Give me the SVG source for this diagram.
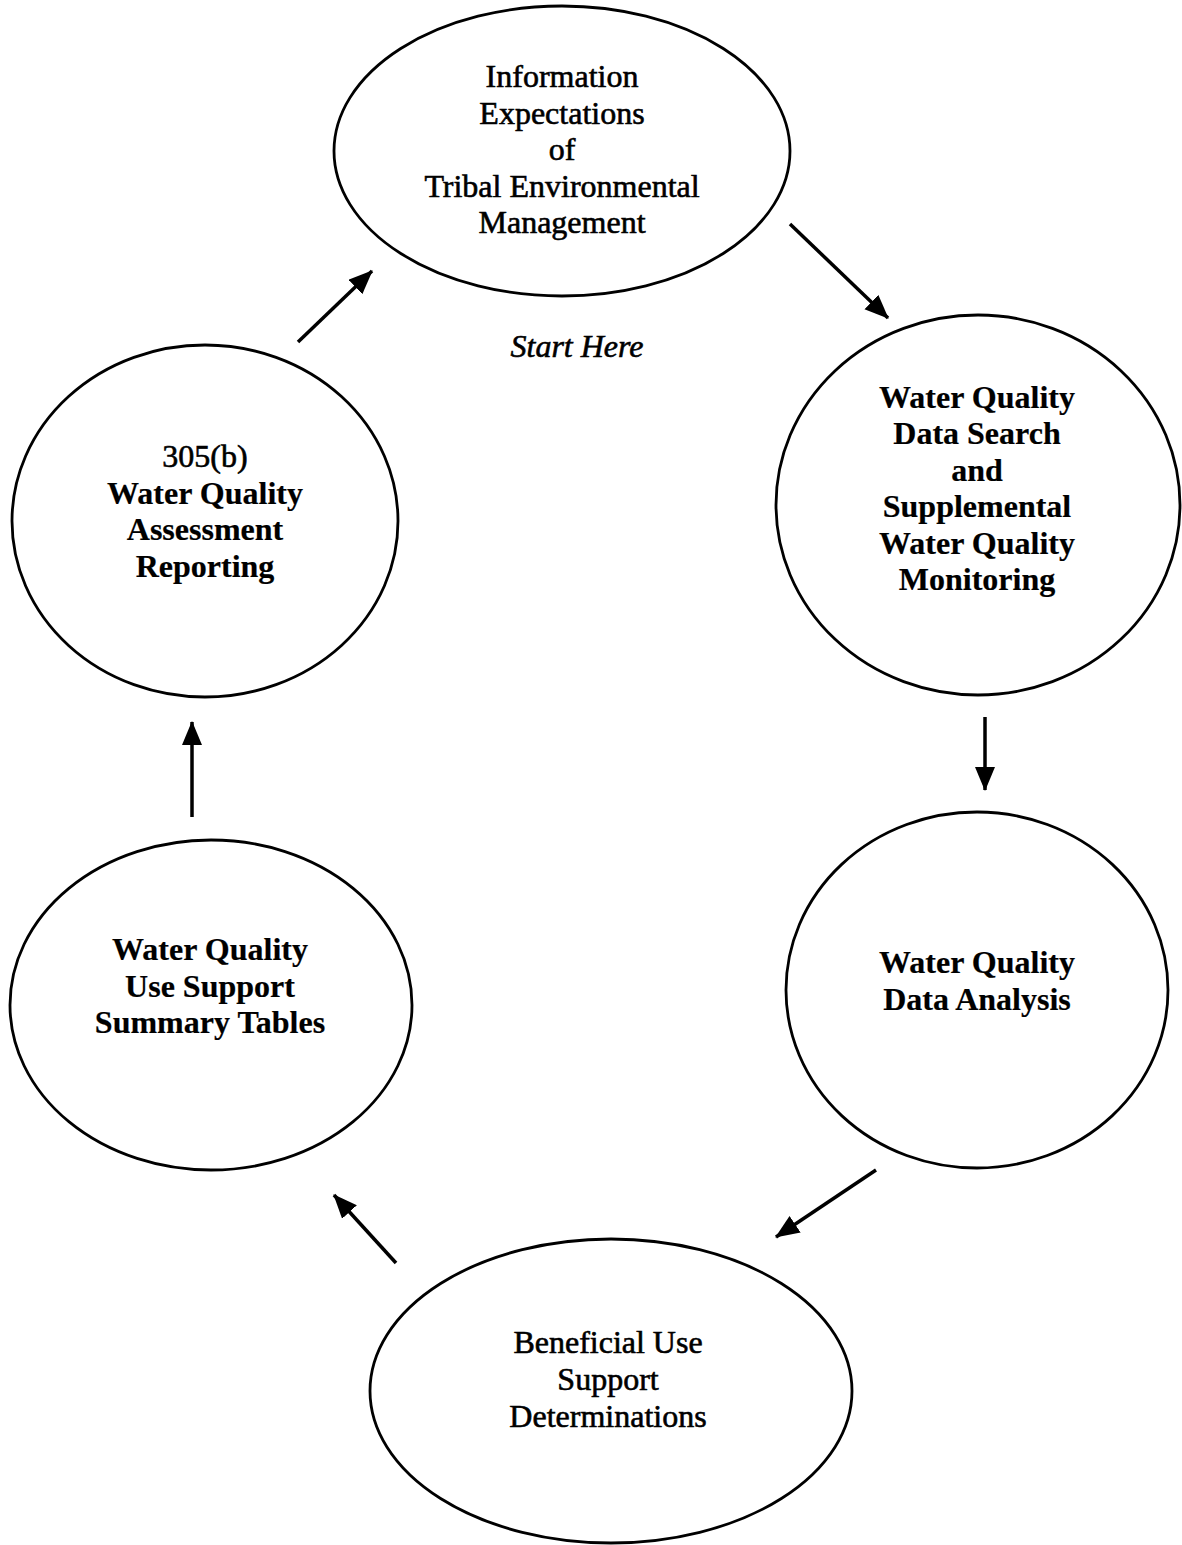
<svg xmlns="http://www.w3.org/2000/svg" width="1182" height="1545" viewBox="0 0 1182 1545">
<style>
.node{fill:#fff;stroke:#000;stroke-width:2.8}
.t{font-family:"Liberation Serif","Times New Roman",serif;font-size:32px;text-anchor:middle;fill:#000;stroke:#000;stroke-width:0.6}
.b{font-weight:bold;stroke-width:0.2}
.it{font-style:italic;font-size:32px}
.c{stroke:#000;stroke-width:3.5;fill:none;marker-end:url(#ah)}
</style>
<defs>
<marker id="ah" markerUnits="userSpaceOnUse" markerWidth="26" markerHeight="22" refX="23" refY="10" orient="auto">
<path d="M0,0 L24,10 L0,20 z" fill="#000"/>
</marker>
</defs>
<rect width="1182" height="1545" fill="#fff"/>
<g id="n1">
<ellipse class="node" cx="562" cy="151" rx="228" ry="145"/>
<text class="t"><tspan x="562" y="87">Information</tspan><tspan x="562" y="123.5">Expectations</tspan><tspan x="562" y="160">of</tspan><tspan x="562" y="196.5">Tribal Environmental</tspan><tspan x="562" y="233">Management</tspan></text>
</g>
<g id="n2">
<ellipse class="node" cx="978" cy="505" rx="202" ry="190"/>
<text class="t b"><tspan x="977" y="408">Water Quality</tspan><tspan x="977" y="444.4">Data Search</tspan><tspan x="977" y="480.8">and</tspan><tspan x="977" y="517.2">Supplemental</tspan><tspan x="977" y="553.6">Water Quality</tspan><tspan x="977" y="590">Monitoring</tspan></text>
</g>
<g id="n3">
<ellipse class="node" cx="977" cy="990" rx="191" ry="178"/>
<text class="t b"><tspan x="977" y="973">Water Quality</tspan><tspan x="977" y="1010">Data Analysis</tspan></text>
</g>
<g id="n4">
<ellipse class="node" cx="611" cy="1391" rx="241" ry="152"/>
<text class="t"><tspan x="608" y="1353">Beneficial Use</tspan><tspan x="608" y="1390">Support</tspan><tspan x="608" y="1427">Determinations</tspan></text>
</g>
<g id="n5">
<ellipse class="node" cx="211" cy="1005" rx="201" ry="165"/>
<text class="t b"><tspan x="210" y="960">Water Quality</tspan><tspan x="210" y="996.5">Use Support</tspan><tspan x="210" y="1033">Summary Tables</tspan></text>
</g>
<g id="n6">
<ellipse class="node" cx="205" cy="521" rx="193" ry="176"/>
<text class="t"><tspan x="205" y="467">305(b)</tspan></text>
<text class="t b"><tspan x="205" y="503.7">Water Quality</tspan><tspan x="205" y="540.3">Assessment</tspan><tspan x="205" y="577">Reporting</tspan></text>
</g>
<g id="label">
<text class="t it" x="577" y="357">Start Here</text>
</g>
<g id="connectors">
<line class="c" x1="790" y1="224" x2="888" y2="318"/>
<line class="c" x1="985" y1="717" x2="985" y2="790"/>
<line class="c" x1="876" y1="1170" x2="776" y2="1237"/>
<line class="c" x1="396" y1="1263" x2="334" y2="1195"/>
<line class="c" x1="192" y1="817" x2="192" y2="722"/>
<line class="c" x1="298" y1="342" x2="372" y2="271"/>
</g>
</svg>
